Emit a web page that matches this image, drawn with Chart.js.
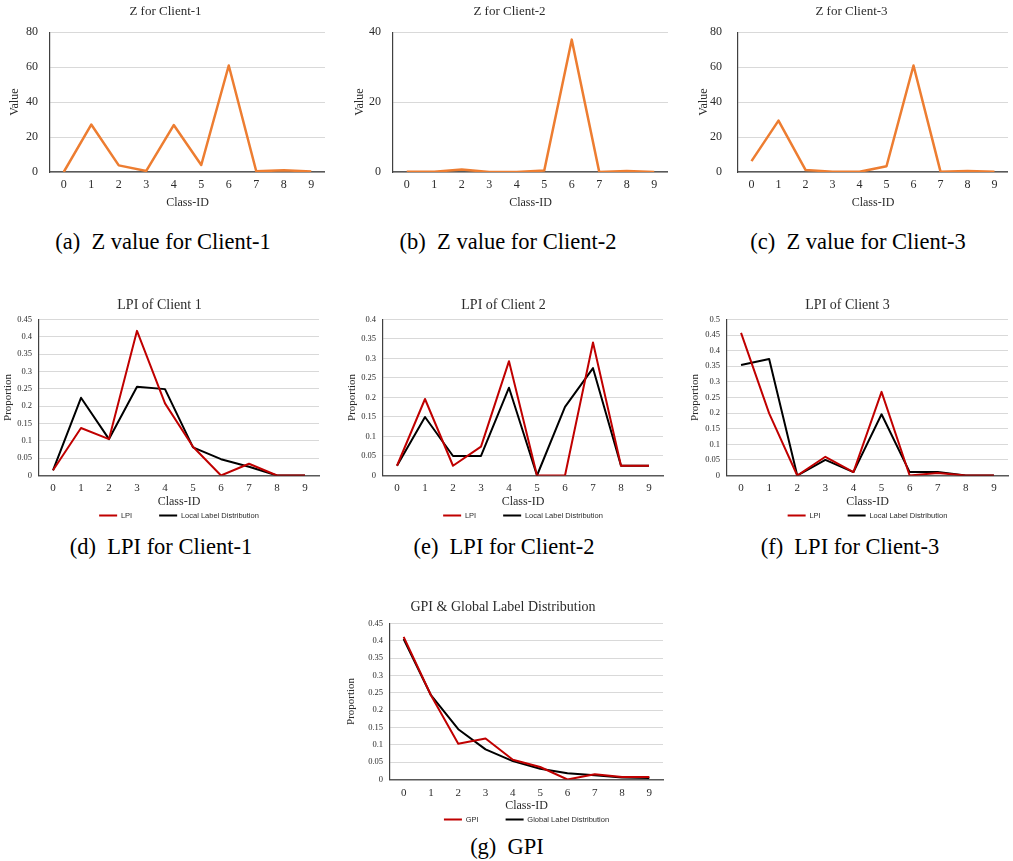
<!DOCTYPE html>
<html>
<head>
<meta charset="utf-8">
<script src="https://cdn.jsdelivr.net/npm/chart.js@4.4.1/dist/chart.umd.min.js"></script>
<style>
html, body { margin: 0; padding: 0; background: #fff; overflow: hidden; }
body { width: 1013px; height: 861px; position: relative; }
.box { position: absolute; }
.cap {
    position: absolute;
    font-family: 'Liberation Serif', 'Times New Roman', serif;
    font-size: 22.5px;
    color: #000;
    white-space: nowrap;
    transform: translate(-50%, -50%);
}
</style>
</head>
<body>

<div class="cap" style="left:163px;top:242px">(a)&nbsp; Z value for Client-1</div>
<div class="cap" style="left:508px;top:242px">(b)&nbsp; Z value for Client-2</div>
<div class="cap" style="left:858px;top:242px">(c)&nbsp; Z value for Client-3</div>
<div class="cap" style="left:161px;top:547px">(d)&nbsp; LPI for Client-1</div>
<div class="cap" style="left:504px;top:547px">(e)&nbsp; LPI for Client-2</div>
<div class="cap" style="left:850px;top:547px">(f)&nbsp; LPI for Client-3</div>
<div class="cap" style="left:507px;top:847px">(g)&nbsp; GPI</div>

<script>
// class ids on the x axis
const classIds = ['0', '1', '2', '3', '4', '5', '6', '7', '8', '9'];

// Z values per client
const zClient1 = [0, 27.2, 3.8, 0.6, 26.9, 4, 61, 0.4, 1, 0.3];
const zClient2 = [0.1, 0.1, 0.7, 0, 0, 0.4, 37.9, 0, 0.3, 0];
const zClient3 = [6.2, 29.4, 1.2, 0.2, 0.1, 3.3, 61, 0.2, 0.6, 0.2];

// LPI vs local label distribution
const lpi1 = [0.015, 0.137, 0.105, 0.417, 0.208, 0.083, 0, 0.034, 0, 0];
const local1 = [0.015, 0.224, 0.105, 0.256, 0.249, 0.081, 0.047, 0.025, 0, 0];
const lpi2 = [0.025, 0.196, 0.025, 0.074, 0.293, 0, 0, 0.341, 0.025, 0.025];
const local2 = [0.025, 0.15, 0.05, 0.05, 0.225, 0, 0.176, 0.275, 0.025, 0.025];
const lpi3 = [0.457, 0.199, 0, 0.06, 0.011, 0.268, 0, 0.008, 0, 0];
const local3 = [0.354, 0.373, 0, 0.05, 0.011, 0.196, 0.011, 0.011, 0, 0];

// GPI vs global label distribution
const gpi = [0.411, 0.243, 0.103, 0.118, 0.057, 0.036, 0, 0.015, 0.007, 0.007];
const globalDist = [0.405, 0.243, 0.145, 0.087, 0.053, 0.031, 0.018, 0.012, 0.006, 0.004];

const serif = "'Liberation Serif', 'Times New Roman', serif";
const sans = "'Liberation Sans', Arial, sans-serif";
const textColor = '#2b2b2b';

const makePanel = function(box, datasets, o) {
    const div = document.createElement('div');
    div.className = 'box';
    div.style.left = box.left + 'px';
    div.style.top = box.top + 'px';
    const canvas = document.createElement('canvas');
    canvas.width = box.width;
    canvas.height = box.height;
    div.appendChild(canvas);
    document.body.appendChild(div);

    // legend sits a bit higher than the layout puts it
    const legendShift = {
        id: 'legendShift',
        afterLayout: function(chart) {
            if (o.legend && o.legendShift) {
                chart.legend.top -= o.legendShift;
                chart.legend.bottom -= o.legendShift;
            }
        }
    };

    return new Chart(canvas, {
        type: 'line',
        data: { labels: classIds, datasets: datasets },
        plugins: [legendShift],
        options: {
            responsive: false,
            animation: false,
            devicePixelRatio: 1,
            layout: { padding: { left: 0, right: o.padRight || 0, top: 0, bottom: 0 } },
            elements: { point: { radius: 0 }, line: { tension: 0, borderJoinStyle: 'round' } },
            plugins: {
                title: {
                    display: true,
                    text: o.title,
                    color: textColor,
                    font: { family: serif, size: o.titleSize, weight: 'normal' },
                    padding: { top: 0, bottom: o.titlePb }
                },
                legend: o.legend ? {
                    display: true,
                    position: 'bottom',
                    fullSize: false,
                    labels: {
                        usePointStyle: true,
                        pointStyle: 'line',
                        pointStyleWidth: 18,
                        boxHeight: 7.5,
                        padding: 27,
                        color: textColor,
                        font: { family: sans, size: 7.5 }
                    }
                } : { display: false },
                tooltip: { enabled: false }
            },
            scales: {
                x: {
                    offset: true,
                    grid: { display: false, drawTicks: false },
                    border: { display: true, color: '#595959', width: 1.5 },
                    ticks: {
                        color: textColor,
                        font: { family: serif, size: o.xTickSize },
                        padding: o.xTickPad,
                        maxRotation: 0,
                        autoSkip: false
                    },
                    title: {
                        display: true,
                        text: 'Class-ID',
                        color: textColor,
                        font: { family: serif, size: 12 },
                        padding: { top: 0, bottom: o.xTitlePb }
                    },
                    afterFit: function(scale) { scale.height = o.xH; }
                },
                y: {
                    min: 0,
                    max: o.yMax,
                    grid: { color: '#d9d9d9', lineWidth: 1, drawTicks: false },
                    border: { display: true, color: '#404040', width: 1.2 },
                    ticks: {
                        stepSize: o.yStep,
                        color: textColor,
                        font: { family: serif, size: o.yTickSize },
                        padding: o.yTickPad,
                        callback: v => parseFloat(v.toFixed(2)).toString()
                    },
                    title: {
                        display: true,
                        text: o.yTitle,
                        color: textColor,
                        font: { family: serif, size: o.yTitleSize },
                        padding: { top: 2, bottom: 0 }
                    },
                    afterFit: function(scale) { scale.width = o.yW; }
                }
            }
        }
    });
};

const zLine = data => [{ label: 'Z', data: data, borderColor: '#ED7D31', borderWidth: 2.5 }];
const pairLines = (redLabel, red, blackLabel, black) => [
    { label: redLabel, data: red, borderColor: '#C00000', borderWidth: 2 },
    { label: blackLabel, data: black, borderColor: '#000000', borderWidth: 2 }
];

const zOpts = {
    titleSize: 13, titlePb: 12.7, yTitle: 'Value', yTitleSize: 12,
    yTickSize: 12, yTickPad: 12, xTickSize: 12, xTickPad: 6,
    xH: 40, xTitlePb: 1.5, yStep: 20
};
const lpiOpts = {
    titleSize: 14, titlePb: 5.6, yTitle: 'Proportion', yTitleSize: 11,
    yTickSize: 8.5, yTickPad: 7, xTickSize: 11, xTickPad: 6.5,
    xH: 24, xTitlePb: -9.2, yStep: 0.05, legend: true, legendShift: 14.75
};

makePanel({ left: 6, top: 4, width: 319, height: 208 }, zLine(zClient1),
    Object.assign({}, zOpts, { title: 'Z for Client-1', yMax: 80, yW: 44 }));
makePanel({ left: 351, top: 4, width: 317, height: 208 }, zLine(zClient2),
    Object.assign({}, zOpts, { title: 'Z for Client-2', yMax: 40, yW: 42 }));
makePanel({ left: 695, top: 4, width: 313, height: 208 }, zLine(zClient3),
    Object.assign({}, zOpts, { title: 'Z for Client-3', yMax: 80, yW: 43, yTickPad: 16 }));

makePanel({ left: 0, top: 297, width: 340, height: 247 }, pairLines('LPI', lpi1, 'Local Label Distribution', local1),
    Object.assign({}, lpiOpts, { title: 'LPI of Client 1', yMax: 0.45, yW: 39, padRight: 21 }));
makePanel({ left: 344, top: 297, width: 336, height: 247 }, pairLines('LPI', lpi2, 'Local Label Distribution', local2),
    Object.assign({}, lpiOpts, { title: 'LPI of Client 2', yMax: 0.4, yW: 39, padRight: 17 }));
makePanel({ left: 687, top: 297, width: 339, height: 247 }, pairLines('LPI', lpi3, 'Local Label Distribution', local3),
    Object.assign({}, lpiOpts, { title: 'LPI of Client 3', yMax: 0.5, yW: 40, padRight: 18 }));

makePanel({ left: 343, top: 599, width: 349, height: 249 }, pairLines('GPI', gpi, 'Global Label Distribution', globalDist),
    Object.assign({}, lpiOpts, { title: 'GPI & Global Label Distribution', titlePb: 7.6, yMax: 0.45, yW: 47, padRight: 29, xTickPad: 7.4 }));
</script>
</body>
</html>
